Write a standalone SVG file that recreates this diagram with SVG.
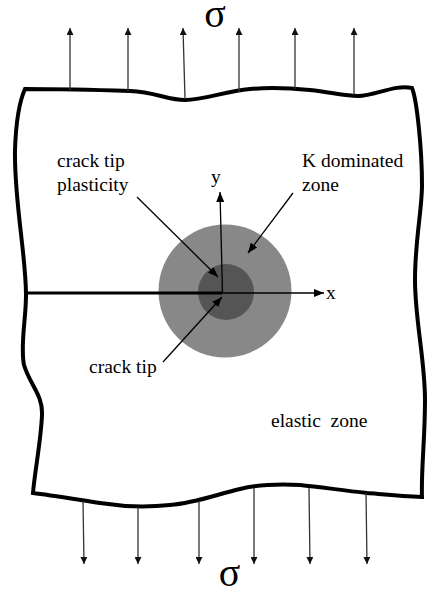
<svg xmlns="http://www.w3.org/2000/svg" width="430" height="590" viewBox="0 0 430 590">
<defs>
<marker id="ah" viewBox="0 0 10 8" refX="10" refY="4" markerWidth="10" markerHeight="8" markerUnits="userSpaceOnUse" orient="auto">
<path d="M0,0 L10,4 L0,8 z" fill="#000"/>
</marker>
<marker id="ahs" viewBox="0 0 7 7" refX="7" refY="3.5" markerWidth="7" markerHeight="7" markerUnits="userSpaceOnUse" orient="auto">
<path d="M0,0 L7,3.5 L0,7 z" fill="#111"/>
</marker>
</defs>
<style>
.t{font-family:"Liberation Serif","Times New Roman",serif;font-size:19.5px;fill:#000}
.sig{font-family:"Liberation Serif","Times New Roman",serif;font-size:40px;fill:#000;text-anchor:middle}
.load{stroke:#333;stroke-width:1.3;fill:none;marker-end:url(#ahs)}
.lead{stroke:#000;stroke-width:1.3;fill:none;marker-end:url(#ah)}
</style>
<rect width="430" height="590" fill="#fff"/>
<g id="plate">
<path d="M25,89 C60,89 100,90 130,91 C155,92 168,100 185,100 C205,100 225,91 250,89 C270,87 290,88 310,90 C330,92 345,96 358,96 C375,96 395,84 412,88 C417,100 422,150 422,185 C422,210 415,240 415,280 C415,320 425,360 425,400 C425,440 421,470 422,497 C400,496 380,494 367,493 C340,490 320,487 300,485 C280,484 260,484 240,489 C215,495 195,503 170,505 C150,507 125,507 100,503 C80,500 50,495 33,493 C35,470 41,440 42,415 C43,395 30,385 24,365 C20,345 26,320 26,295 C26,255 14,200 15,150 C16,120 20,100 25,89 Z" fill="none" stroke="#000" stroke-width="4" stroke-linejoin="miter"/>
</g>
<g id="zones">
<circle id="k-zone" cx="225" cy="291" r="66.5" fill="#888"/>
<circle id="plastic-zone" cx="226" cy="292" r="28" fill="#555"/>
</g>
<g id="crack">
<line x1="26" y1="293" x2="222" y2="293" stroke="#000" stroke-width="3.2"/>
</g>
<g id="connectors">
<line class="load" x1="70" y1="90" x2="70" y2="28"/>
<line class="load" x1="128" y1="91" x2="128" y2="28"/>
<line class="load" x1="185" y1="99" x2="183" y2="28"/>
<line class="load" x1="239" y1="92" x2="239" y2="28"/>
<line class="load" x1="295" y1="89" x2="295" y2="28"/>
<line class="load" x1="354" y1="95" x2="354" y2="28"/>
<line class="load" x1="83" y1="501" x2="84" y2="564"/>
<line class="load" x1="138" y1="507" x2="138" y2="564"/>
<line class="load" x1="199" y1="501" x2="199" y2="564"/>
<line class="load" x1="254" y1="488" x2="254" y2="564"/>
<line class="load" x1="309" y1="488" x2="310" y2="564"/>
<line class="load" x1="366" y1="493" x2="367" y2="564"/>
<line id="x-axis" class="lead" x1="222" y1="293" x2="324" y2="293"/>
<line id="y-axis" class="lead" x1="222.5" y1="293" x2="220" y2="192"/>
<line class="lead" x1="137" y1="197" x2="218" y2="277"/>
<line class="lead" x1="293" y1="193" x2="248" y2="253"/>
<line class="lead" x1="163" y1="362" x2="222" y2="297"/>
</g>
<g id="labels">
<text class="sig" x="215" y="27">σ</text>
<text class="sig" x="229.5" y="586">σ</text>
<text class="t" x="326" y="299">x</text>
<text class="t" x="211" y="183">y</text>
<text class="t" x="57" y="167">crack tip</text>
<text class="t" x="57" y="191">plasticity</text>
<text class="t" x="302" y="167">K dominated</text>
<text class="t" x="302" y="191">zone</text>
<text class="t" x="89" y="373">crack tip</text>
<text class="t" x="271" y="427" xml:space="preserve">elastic  zone</text>
</g>
</svg>
